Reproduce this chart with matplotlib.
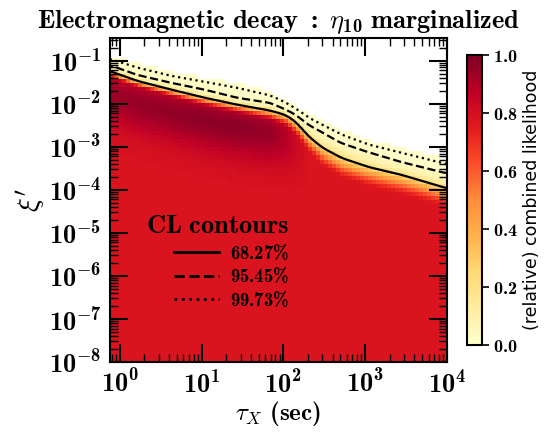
import numpy as np
import matplotlib
matplotlib.use("Agg")
import matplotlib.pyplot as plt
from matplotlib.lines import Line2D
from matplotlib.ticker import FuncFormatter, LogLocator, FixedLocator

plt.rcParams["mathtext.fontset"] = "custom"
plt.rcParams["mathtext.rm"] = "cmb10"
plt.rcParams["mathtext.bf"] = "cmb10"
plt.rcParams["mathtext.it"] = "cmmi10"
plt.rcParams["mathtext.fallback"] = "cm"

# CL contour positions: log10(tau_X / sec) -> log10(xi')
log_tau = np.array([-0.12, 0.22, 0.63, 1.04, 1.44, 1.85, 2.04, 2.16, 2.32, 2.48, 2.72, 3.05, 3.45, 4.0])
log_xi_68 = np.array([-1.24, -1.47, -1.67, -1.86, -2.02, -2.16, -2.26, -2.42, -2.77, -3.02, -3.26, -3.47, -3.65, -3.96])
log_xi_95 = np.array([-1.10, -1.33, -1.51, -1.67, -1.86, -1.98, -2.14, -2.26, -2.49, -2.65, -2.91, -3.12, -3.35, -3.61])
log_xi_99 = np.array([-0.96, -1.16, -1.35, -1.49, -1.63, -1.81, -1.98, -2.12, -2.33, -2.49, -2.72, -2.95, -3.14, -3.40])

# how far below the 68% line the likelihood is still falling (decades)
inner_width = np.array([0.16, 0.16, 0.18, 0.2, 0.22, 0.25, 0.3, 0.35, 0.4, 0.45, 0.5, 0.5, 0.5, 0.5])
# extra likelihood of the dark band under the 68% line
band_amp = np.array([0.16, 0.17, 0.18, 0.19, 0.19, 0.17, 0.11, 0.05, 0.0, 0.0, 0.0, 0.0, 0.0, 0.0])
base_level = 0.78

cl_labels = ["68.27%", "95.45%", "99.73%"]
dchi2 = [2.30, 6.18, 11.83]
cl_levels = [np.exp(-d / 2) for d in dchi2[::-1]]
x_lim = (10**-0.12, 1e4)
y_lim = (1e-8, 10**-0.47)


def delta_chi2(lt, ly):
    b1 = np.interp(lt, log_tau, log_xi_68)
    b2 = np.interp(lt, log_tau, log_xi_95)
    b3 = np.interp(lt, log_tau, log_xi_99)
    w = np.interp(lt, log_tau, inner_width)
    t = np.clip((ly - (b1 - w)) / w, 0, 1)
    chi = dchi2[0] * t**2
    chi = np.where(ly > b1, dchi2[0] + (ly - b1) / (b2 - b1) * (dchi2[1] - dchi2[0]), chi)
    chi = np.where(ly > b2, dchi2[1] + (ly - b2) / (b3 - b2) * (dchi2[2] - dchi2[1]), chi)
    chi = np.where(ly > b3, dchi2[2] + (ly - b3) / (b3 - b2) * (dchi2[2] - dchi2[1]), chi)
    return chi, b1


def smooth_rows(z, n):
    k = np.ones(n) / n
    zp = np.pad(z, ((0, 0), (n // 2, n // 2)), mode="edge")
    return np.array([np.convolve(r, k, mode="valid") for r in zp])


# coarse grid for the colour map
xe = np.linspace(np.log10(x_lim[0]), np.log10(x_lim[1]), 86)
ye = np.linspace(np.log10(y_lim[0]), np.log10(y_lim[1]), 81)
LT, LY = np.meshgrid(0.5 * (xe[1:] + xe[:-1]), 0.5 * (ye[1:] + ye[:-1]))
chi, b1 = delta_chi2(LT, LY)
dy = LY - (b1 - 0.5)
sig = np.where(dy < 0, 0.5, 0.35)
amp = base_level + np.interp(LT, log_tau, band_amp) * np.exp(-0.5 * (dy / sig) ** 2)
like = amp * np.exp(-chi / 2)
like = np.ma.masked_where(chi > 15, like)

# fine grid for the contour lines
fx = np.linspace(xe[0], xe[-1], 500)
fy = np.linspace(ye[0], ye[-1], 500)
FX, FY = np.meshgrid(fx, fy)
fchi, _ = delta_chi2(FX, FY)
fchi = smooth_rows(fchi, 15)

fig = plt.figure(figsize=(5.54, 4.32), dpi=100)
ax = fig.add_axes([0.1986, 0.162, 0.608, 0.750])
cax = fig.add_axes([0.843, 0.2014, 0.027, 0.671])

mesh = ax.pcolormesh(10**xe, 10**ye, like, cmap="YlOrRd", vmin=0, vmax=1, shading="flat")
ax.contour(10**fx, 10**fy, np.exp(-fchi / 2), levels=cl_levels, colors="k",
           linewidths=1.6, linestyles=[":", "--", "-"])

ax.set_xscale("log")
ax.set_yscale("log")
ax.set_xlim(*x_lim)
ax.set_ylim(*y_lim)

pow_fmt = FuncFormatter(lambda v, p: r"$\mathbf{10^{%d}}$" % round(np.log10(v)))
ax.xaxis.set_major_locator(FixedLocator([1, 10, 100, 1e3, 1e4]))
ax.yaxis.set_major_locator(FixedLocator([10.0**k for k in range(-8, 0)]))
ax.xaxis.set_major_formatter(pow_fmt)
ax.yaxis.set_major_formatter(pow_fmt)
ax.xaxis.set_minor_locator(LogLocator(base=10, subs=np.arange(2, 10), numticks=50))
ax.yaxis.set_minor_locator(LogLocator(base=10, subs=np.arange(2, 10), numticks=50))
ax.tick_params(which="both", direction="in", top=True, right=True, labelsize=19)
ax.tick_params(which="major", length=13, width=1.5, pad=6)
ax.tick_params(which="minor", length=6, width=1.0)
for s in ax.spines.values():
    s.set_linewidth(1.5)

ax.set_title(r"$\mathbf{Electromagnetic\ decay\ :\ }\eta_{\mathbf{10}}\mathbf{\ marginalized}$",
             fontsize=19, pad=7)
ax.set_xlabel(r"$\tau_X\ \mathbf{(sec)}$", fontsize=18, labelpad=0)
ax.set_ylabel(r"$\xi'$", fontsize=21, labelpad=1)

handles = [Line2D([], [], color="k", lw=2.0, ls=s) for s in ["-", "--", ":"]]
ax.legend(handles, [r"$\mathbf{%s}$" % l.replace("%", r"\%") for l in cl_labels],
          title=r"$\mathbf{CL\ contours}$", title_fontsize=19, fontsize=13.5,
          frameon=False, loc="center", bbox_to_anchor=(0.32, 0.31),
          handlelength=2.4, handletextpad=0.6, labelspacing=0.2, borderpad=0.2,
          alignment="right")

cb = fig.colorbar(mesh, cax=cax, ticks=[0, 0.2, 0.4, 0.6, 0.8, 1.0])
cb.ax.yaxis.set_major_formatter(FuncFormatter(lambda v, p: r"$\mathbf{%.1f}$" % v))
cb.ax.tick_params(labelsize=13, length=5, width=1.2, pad=3)
cb.outline.set_linewidth(1.5)
cb.set_label("(relative) combined likelihood", fontsize=12.5, labelpad=4)

fig.savefig("out.png", dpi=100)
